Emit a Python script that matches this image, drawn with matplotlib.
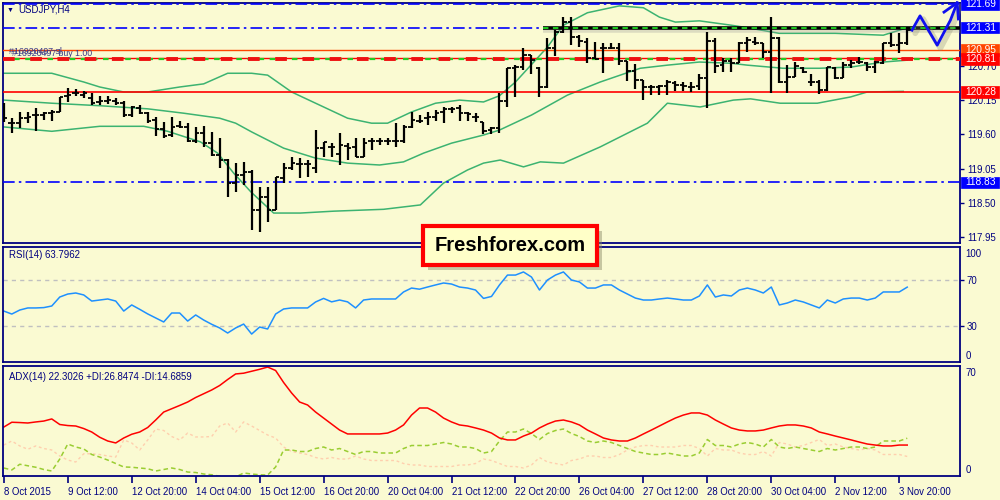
import matplotlib
matplotlib.use("Agg")
import matplotlib.pyplot as plt
import matplotlib.transforms as mtrans
from matplotlib.patches import Rectangle
import numpy as np

plt.rcParams['font.family'] = ['Liberation Sans', 'DejaVu Sans']

# ---------------- data ----------------
opens = [119.96, 119.78, 119.78, 119.86, 119.91, 119.91, 119.94, 119.96, 120.22, 120.26,
         120.23, 120.18, 120.12, 120.14, 120.14, 120.10, 119.91, 120.02, 119.94, 119.83,
         119.69, 119.59, 119.73, 119.72, 119.49, 119.62, 119.46, 119.27, 119.19, 118.82,
         118.95, 119.00, 118.39, 118.60, 118.39, 118.90, 119.06, 119.13, 119.13, 119.06,
         119.38, 119.40, 119.29, 119.41, 119.40, 119.24, 119.49, 119.49, 119.49, 119.49,
         119.49, 119.72, 119.82, 119.86, 119.88, 119.96, 120.01, 120.02, 119.94, 119.88,
         119.80, 119.67, 119.70, 120.14, 120.66, 120.68, 120.87, 120.66, 120.36, 120.98,
         121.24, 121.40, 121.16, 121.08, 120.82, 120.98, 120.98, 120.98, 120.78, 120.62,
         120.47, 120.36, 120.36, 120.38, 120.42, 120.39, 120.36, 120.38, 120.50, 121.10,
         120.71, 120.78, 120.74, 121.06, 121.08, 121.06, 120.92, 121.14, 120.44, 120.52,
         120.66, 120.44, 120.44, 120.31, 120.66, 120.50, 120.71, 120.76, 120.74, 120.68,
         120.74, 121.06, 121.03, 121.06]
highs = [120.10, 119.86, 119.96, 119.96, 120.02, 119.96, 119.99, 120.20, 120.34, 120.33,
         120.29, 120.26, 120.22, 120.22, 120.18, 120.14, 120.06, 120.07, 119.96, 119.88,
         119.80, 119.88, 119.82, 119.78, 119.72, 119.73, 119.64, 119.54, 119.20, 119.14,
         119.16, 119.03, 118.76, 118.76, 118.92, 119.14, 119.24, 119.22, 119.19, 119.67,
         119.48, 119.46, 119.62, 119.46, 119.54, 119.54, 119.54, 119.54, 119.54, 119.78,
         119.75, 119.96, 119.91, 119.96, 119.99, 120.04, 120.04, 120.07, 119.96, 119.94,
         119.80, 119.72, 120.26, 120.66, 120.71, 120.98, 120.87, 120.68, 121.14, 121.27,
         121.48, 121.48, 121.19, 121.14, 121.08, 121.06, 121.06, 121.06, 120.78, 120.73,
         120.47, 120.39, 120.39, 120.47, 120.46, 120.44, 120.44, 120.57, 121.24, 121.14,
         120.82, 120.82, 121.08, 121.16, 121.16, 121.06, 121.48, 121.16, 120.71, 120.76,
         120.68, 120.57, 120.47, 120.68, 120.68, 120.76, 120.79, 120.84, 120.76, 120.78,
         121.06, 121.22, 121.22, 121.31]
lows = [119.80, 119.62, 119.70, 119.78, 119.65, 119.83, 119.82, 119.96, 120.12, 120.22,
        120.18, 120.07, 120.07, 120.09, 120.07, 119.88, 119.88, 119.93, 119.78, 119.57,
        119.54, 119.56, 119.70, 119.48, 119.46, 119.40, 119.25, 119.06, 118.60, 118.68,
        118.79, 118.07, 118.04, 118.20, 118.39, 118.82, 119.03, 118.90, 118.92, 118.98,
        119.24, 119.24, 119.11, 119.19, 119.24, 119.24, 119.35, 119.43, 119.43, 119.40,
        119.46, 119.70, 119.78, 119.75, 119.82, 119.78, 119.94, 119.82, 119.82, 119.80,
        119.61, 119.61, 119.62, 120.04, 120.20, 120.63, 120.57, 120.20, 120.34, 120.86,
        121.22, 121.03, 121.00, 120.74, 120.81, 120.58, 120.97, 120.71, 120.46, 120.33,
        120.15, 120.23, 120.23, 120.23, 120.29, 120.29, 120.28, 120.31, 120.02, 120.58,
        120.60, 120.60, 120.74, 120.92, 121.03, 120.82, 120.26, 120.42, 120.26, 120.52,
        120.58, 120.38, 120.25, 120.29, 120.49, 120.50, 120.66, 120.73, 120.62, 120.58,
        120.73, 121.00, 120.90, 121.03]
closes = [119.86, 119.78, 119.86, 119.88, 119.91, 119.94, 119.96, 120.20, 120.23, 120.26,
          120.26, 120.10, 120.14, 120.15, 120.10, 119.91, 120.04, 119.94, 119.82, 119.69,
          119.57, 119.72, 119.72, 119.49, 119.62, 119.46, 119.27, 119.19, 118.82, 118.95,
          119.00, 118.39, 118.60, 118.39, 118.92, 119.06, 119.14, 119.13, 119.13, 119.38,
          119.48, 119.40, 119.43, 119.38, 119.24, 119.46, 119.49, 119.49, 119.49, 119.49,
          119.72, 119.83, 119.82, 119.88, 119.94, 120.01, 120.01, 119.94, 119.93, 119.88,
          119.65, 119.70, 120.14, 120.66, 120.68, 120.87, 120.79, 120.36, 120.98, 121.24,
          121.40, 121.16, 121.10, 120.82, 120.81, 120.98, 120.98, 120.78, 120.62, 120.47,
          120.36, 120.36, 120.38, 120.44, 120.39, 120.38, 120.36, 120.50, 121.10, 120.70,
          120.78, 120.74, 121.06, 121.11, 121.06, 120.92, 121.14, 120.44, 120.52, 120.70,
          120.60, 120.44, 120.31, 120.68, 120.50, 120.71, 120.74, 120.76, 120.68, 120.76,
          121.06, 121.03, 121.06, 121.27]

# Bollinger bands, sampled along the chart (bar index, price)
bb_up_idx = [0, 6, 10, 12, 15, 18, 22, 25, 28, 31, 33, 36, 39, 43, 46, 48, 51, 54, 57, 60,
             62, 64, 68, 70, 73, 77, 80, 82, 84, 87, 91, 93, 97, 104, 110, 113]
bb_up = [120.58, 120.58, 120.44, 120.36, 120.28, 120.28, 120.36, 120.41, 120.58, 120.58,
         120.55, 120.28, 120.10, 119.86, 119.78, 119.78, 119.96, 120.10, 120.15, 120.12,
         120.22, 120.44, 121.00, 121.35, 121.55, 121.66, 121.63, 121.48, 121.40, 121.42,
         121.35, 121.31, 121.22, 121.22, 121.19, 121.31]
bb_mid_idx = [0, 6, 12, 18, 22.5, 27, 29, 31, 35, 39, 43, 47, 50, 52.5, 56, 60, 62, 66,
              70.5, 74.6, 79.6, 83, 87, 91, 93, 97.5, 102, 106, 110, 113]
bb_mid = [120.15, 120.10, 120.06, 120.01, 119.94, 119.86, 119.78, 119.64, 119.38, 119.22,
          119.14, 119.11, 119.16, 119.30, 119.46, 119.59, 119.67, 119.91, 120.23, 120.44,
          120.66, 120.71, 120.76, 120.74, 120.71, 120.66, 120.66, 120.68, 120.76, 120.79]
bb_low_idx = [0, 6, 12, 17.5, 20.5, 24.6, 26.75, 28.75, 30.9, 33.75, 37.1, 41.25, 47.5,
              52.1, 55, 58, 60, 62.1, 65, 67.1, 70, 74.6, 80.5, 83, 87.1, 91.25, 93.4,
              97.1, 101.75, 105.9, 108, 112.5]
bb_low = [119.72, 119.65, 119.73, 119.73, 119.65, 119.48, 119.30, 118.98, 118.68, 118.34,
          118.34, 118.37, 118.40, 118.47, 118.82, 119.03, 119.14, 119.19, 119.08, 119.16,
          119.14, 119.40, 119.78, 120.10, 120.04, 120.15, 120.17, 120.10, 120.10, 120.20,
          120.28, 120.29]

rsi = [43.0, 40.4, 43.9, 45.7, 45.7, 46.0, 47.4, 55.2, 57.8, 58.7,
       57.0, 51.7, 52.6, 53.5, 51.7, 43.0, 48.3, 44.5, 40.5, 37.0,
       33.5, 41.3, 41.3, 34.3, 39.6, 35.2, 31.5, 28.3, 23.9, 28.3,
       31.7, 23.0, 29.1, 27.4, 40.4, 44.8, 45.7, 45.7, 45.7, 50.9,
       54.0, 51.0, 52.6, 51.0, 45.7, 52.6, 53.5, 53.5, 53.5, 53.5,
       59.6, 63.0, 62.0, 63.9, 65.7, 67.4, 66.5, 63.9, 63.0, 61.3,
       54.0, 55.7, 65.7, 74.3, 74.3, 77.0, 72.6, 61.3, 70.0, 74.3,
       77.0, 70.0, 68.3, 63.0, 63.0, 65.7, 65.7, 61.3, 57.8, 54.3,
       52.6, 52.6, 53.5, 54.3, 53.5, 52.6, 52.6, 56.1, 65.7, 55.2,
       57.0, 56.1, 61.3, 63.0, 61.3, 58.7, 63.9, 48.3, 50.0, 52.6,
       50.9, 48.3, 45.7, 52.6, 50.0, 53.5, 54.3, 54.3, 52.6, 54.3,
       59.6, 59.6, 59.6, 63.8]
adx = [34.3, 37.5, 37.3, 37.0, 37.7, 38.3, 39.7, 36.0, 35.3, 35.0,
       33.3, 31.0, 27.5, 25.0, 23.7, 27.0, 29.5, 31.0, 34.0, 39.0,
       44.3, 46.5, 48.7, 51.0, 54.0, 56.5, 59.0, 62.0, 66.0, 69.7,
       70.2, 71.5, 72.8, 74.3, 72.0, 64.0, 57.0, 51.0, 49.0, 44.3,
       40.3, 36.3, 32.3, 29.7, 29.7, 29.7, 29.7, 29.7, 30.3, 32.3,
       35.7, 42.3, 47.0, 47.0, 44.3, 40.3, 37.7, 35.7, 35.0, 33.7,
       32.3, 30.3, 27.0, 25.7, 25.7, 28.3, 30.3, 33.7, 36.3, 38.3,
       39.0, 37.7, 35.7, 32.3, 29.7, 27.0, 25.7, 25.0, 25.0, 27.0,
       29.7, 32.3, 35.0, 37.7, 40.3, 42.3, 43.7, 43.7, 42.3, 39.0,
       36.3, 33.7, 32.3, 31.7, 31.7, 32.3, 33.7, 35.0, 35.7, 35.7,
       35.0, 33.7, 31.0, 29.7, 28.3, 27.0, 25.7, 24.3, 23.0, 22.3,
       21.7, 21.7, 22.3, 22.3]
plus_di = [7.0, 5.7, 9.5, 8.5, 7.5, 6.0, 5.0, 13.0, 23.0, 21.0,
           19.7, 16.0, 14.3, 12.3, 10.0, 7.7, 7.5, 7.0, 6.5, 5.0,
           6.0, 7.0, 6.0, 4.3, 4.0, 3.0, 2.5, 1.5, 1.0, 1.0,
           3.7, 3.0, 2.5, 2.3, 7.7, 19.0, 19.0, 18.0, 18.0, 20.0,
           21.0, 19.0, 20.0, 18.0, 16.0, 18.0, 18.0, 17.0, 17.0, 17.0,
           20.0, 22.0, 22.0, 22.0, 23.0, 24.0, 23.0, 21.0, 21.0, 20.0,
           17.0, 18.0, 25.0, 31.0, 31.0, 33.0, 30.0, 26.0, 30.0, 32.0,
           33.0, 30.0, 28.0, 25.0, 24.0, 25.0, 24.0, 22.0, 20.0, 18.0,
           17.0, 16.0, 16.0, 17.0, 16.0, 15.0, 15.0, 17.0, 26.0, 22.0,
           22.0, 21.0, 23.0, 24.0, 23.0, 21.0, 26.0, 21.0, 20.0, 21.0,
           20.0, 19.0, 18.0, 20.0, 19.0, 20.0, 21.0, 21.0, 20.0, 21.0,
           25.0, 25.0, 25.0, 26.85]
minus_di = [22.3, 25.0, 21.7, 19.5, 21.7, 20.0, 19.0, 15.0, 12.3, 11.0,
            16.5, 16.5, 16.0, 15.0, 14.3, 25.7, 23.7, 19.0, 25.7, 33.0,
            32.0, 28.0, 25.7, 30.3, 27.7, 27.7, 28.0, 35.0, 37.0, 31.0,
            37.7, 35.0, 32.0, 29.0, 27.0, 21.0, 18.0, 17.0, 16.0, 14.0,
            13.0, 14.0, 13.0, 13.0, 15.0, 13.0, 12.0, 12.0, 12.0, 12.0,
            10.0, 9.0, 9.0, 8.0, 8.0, 8.0, 8.0, 9.0, 9.0, 10.0,
            13.0, 12.0, 10.0, 8.0, 8.0, 7.0, 9.0, 14.0, 11.0, 10.0,
            9.0, 12.0, 13.0, 15.0, 15.0, 14.0, 14.0, 16.0, 19.0, 21.0,
            22.0, 22.0, 21.0, 21.0, 21.0, 22.0, 22.0, 20.0, 15.0, 20.0,
            19.0, 19.0, 17.0, 16.0, 16.0, 18.0, 15.0, 24.0, 23.0, 21.0,
            22.0, 24.0, 26.0, 22.0, 23.0, 21.0, 20.0, 19.0, 20.0, 19.0,
            16.0, 16.0, 16.0, 14.69]

x_tick_idx = [0, 8, 16, 24, 32, 40, 48, 56, 64, 72, 80, 88, 96, 104, 112]
x_tick_labels = ["8 Oct 2015", "9 Oct 12:00", "12 Oct 20:00", "14 Oct 04:00",
                 "15 Oct 12:00", "16 Oct 20:00", "20 Oct 04:00", "21 Oct 12:00",
                 "22 Oct 20:00", "26 Oct 04:00", "27 Oct 12:00", "28 Oct 20:00",
                 "30 Oct 04:00", "2 Nov 12:00", "3 Nov 20:00"]
price_ticks = [117.95, 118.50, 119.05, 119.60, 120.15, 120.70]

lvl_top = 121.69
lvl_res = 121.31
lvl_sl = 120.95
lvl_buy = 120.81
lvl_sup = 120.28
lvl_low = 118.83
res_start = 67.5        # bar where the black resistance line starts

# hand-drawn forecast arrow (bar index, price)
arrow_x = [113.6, 114.6, 116.75, 118.4, 119.25]
arrow_y = [121.27, 121.50, 121.03, 121.43, 121.71]
head_x = [117.6, 119.25, 119.4]
head_y = [121.56, 121.71, 121.45]

# ---------------- styling ----------------
BG = "#FAFAD2"
NAVY = "#000080"
BBC = "#3CB371"
W, H = 1000, 500
XMIN, XMAX = -0.1, 119.6
FS = 6.9

fig = plt.figure(figsize=(10, 5), dpi=100, facecolor=BG)


def box(l, t, r, b):
    return [l / W, 1 - b / H, (r - l) / W, (b - t) / H]


ax = fig.add_axes(box(3, 3, 960, 243))
ax_rsi = fig.add_axes(box(3, 247, 960, 362))
ax_adx = fig.add_axes(box(3, 366, 960, 476))

for a in (ax, ax_rsi, ax_adx):
    a.set_facecolor(BG)
    for s in a.spines.values():
        s.set_color(NAVY)
        s.set_linewidth(1.3)
    a.set_xlim(XMIN, XMAX)
    a.yaxis.tick_right()
    a.tick_params(axis='y', colors=NAVY, labelcolor=NAVY, labelsize=FS,
                  length=3, width=1, direction='out', pad=2)
    a.tick_params(axis='x', length=0, labelbottom=False)

idx = np.arange(len(closes))

# --- main price panel ---
ax.set_ylim(117.86, 121.706)
ax.set_yticks(price_ticks)
ax.set_yticklabels([f"{p:.2f}" for p in price_ticks])

ax.plot(bb_up_idx, bb_up, color=BBC, lw=1.1, zorder=2)
ax.plot(bb_mid_idx, bb_mid, color=BBC, lw=1.1, zorder=2)
ax.plot(bb_low_idx, bb_low, color=BBC, lw=1.1, zorder=2)

dashdot = (0, (7, 2.5, 1.5, 2.5))
ax.axhline(lvl_top, color='#0000FF', lw=1.2, ls=dashdot, zorder=3)
ax.hlines(lvl_res, XMIN, res_start, color='#0000FF', lw=1.2, ls=dashdot, zorder=3)
ax.hlines(lvl_res - 0.035, res_start, XMAX, color='#999999', lw=4, alpha=0.3, zorder=3)
ax.hlines(lvl_res, res_start, XMAX, color='black', lw=2.6, zorder=4)
ax.hlines(lvl_res, res_start, XMAX, color='#22DD22', lw=1.3, ls=(0, (3, 2.5)), zorder=5)
ax.axhline(lvl_sl, color='#FF4500', lw=1.0, zorder=3)
ax.axhline(lvl_buy + 0.01, color='#FF0000', lw=1.0, zorder=3)
ax.axhline(lvl_buy - 0.005, color='#22CC22', lw=1.6, ls=(0, (2.5, 2.5)), zorder=3)
ax.axhline(lvl_buy - 0.005, color='#EE1111', lw=2.8, ls=(0, (3, 4)), zorder=3)
ax.axhline(lvl_sup, color='#FF0000', lw=1.2, zorder=3)
ax.axhline(lvl_low, color='#0000FF', lw=1.2, ls=dashdot, zorder=3)

ax.vlines(idx, lows, highs, color='black', lw=1.6, zorder=6)
ax.hlines(opens, idx - 0.42, idx, color='black', lw=1.3, zorder=6)
ax.hlines(closes, idx, idx + 0.42, color='black', lw=1.3, zorder=6)

# forecast arrow with soft shadow
ax.plot(np.array(arrow_x) + 0.4, np.array(arrow_y) - 0.05, color='#8A8A70', lw=4,
        alpha=0.3, solid_capstyle='round', zorder=7, clip_on=False)
ax.plot(arrow_x, arrow_y, color='#1010EE', lw=2.0, solid_joinstyle='round', zorder=8, clip_on=False)
ax.plot(head_x, head_y, color='#1010EE', lw=2.0, zorder=8, clip_on=False)

# price label boxes on the right axis
tr = mtrans.blended_transform_factory(ax.transAxes, ax.transData)
box_x0 = (961 - 3) / 957
box_w = 38 / 957
box_h = 11.5 / 62.4
for val, col in [(lvl_top, '#0000FF'), (lvl_res, '#0000FF'), (lvl_sl, '#FF4500'),
                 (lvl_buy, '#FF0000'), (lvl_sup, '#FF0000'), (lvl_low, '#0000FF')]:
    ax.add_patch(Rectangle((box_x0, val - box_h / 2), box_w, box_h, transform=tr,
                           fc=col, ec=col, lw=0.5, clip_on=False, zorder=19))
    ax.text(box_x0 + 0.004, val, f"{val:.2f}", transform=tr, ha='left', va='center',
            color='white', fontsize=FS + 0.4, zorder=20, clip_on=False)

ax.text(0.006, 120.93, "#16920497 sl", transform=tr, color='#3A3A8A', fontsize=6.3,
        va='center', zorder=9)
ax.text(0.009, 120.895, "#16920497 buy 1.00", transform=tr, color='#3A3A8A', fontsize=6.3,
        va='center', zorder=9)

fig.text(7 / W, 1 - 10 / H, "\u25BC", color=NAVY, fontsize=5, va='center', ha='left')
fig.text(18 / W, 1 - 10 / H, "USDJPY,H4", color=NAVY, fontsize=FS, va='center', ha='left')

# --- RSI panel ---
ax_rsi.set_ylim(-1.3, 98.7)
ax_rsi.set_yticks([30, 70])
ax_rsi.set_yticklabels(["30", "70"])
ax_rsi.axhline(70, color='#C0C0C0', lw=1, ls=(0, (3, 3)))
ax_rsi.axhline(30, color='#C0C0C0', lw=1, ls=(0, (3, 3)))
ax_rsi.plot(idx, rsi, color='#1E90FF', lw=1.1)
ax_rsi.text(1.006, 0.985, "100", transform=ax_rsi.transAxes, color=NAVY, fontsize=FS,
            ha='left', va='top')
ax_rsi.text(1.006, 0.01, "0", transform=ax_rsi.transAxes, color=NAVY, fontsize=FS,
            ha='left', va='bottom')
ax_rsi.text(0.006, 0.93, "RSI(14) 63.7962", transform=ax_rsi.transAxes, color=NAVY,
            fontsize=FS, ha='left', va='center')

# --- ADX panel ---
ax_adx.set_ylim(1.67, 75)
ax_adx.set_yticks([])
ax_adx.plot(idx, minus_di, color='#FFCFAE', lw=1.0, ls=(0, (2, 2)))
ax_adx.plot(idx, plus_di, color='#9ACD32', lw=1.1, ls=(0, (3, 2)))
ax_adx.plot(idx, adx, color='#FF0000', lw=1.1)
ax_adx.text(1.006, 0.985, "70", transform=ax_adx.transAxes, color=NAVY, fontsize=FS,
            ha='left', va='top')
ax_adx.text(1.006, 0.01, "0", transform=ax_adx.transAxes, color=NAVY, fontsize=FS,
            ha='left', va='bottom')
ax_adx.text(0.006, 0.9, "ADX(14) 22.3026 +DI:26.8474 -DI:14.6859", transform=ax_adx.transAxes,
            color=NAVY, fontsize=FS, ha='left', va='center')
ax_adx.set_xticks(x_tick_idx)
ax_adx.set_xticklabels(x_tick_labels)
ax_adx.tick_params(axis='x', length=5, width=1.2, colors=NAVY, labelcolor=NAVY,
                   labelbottom=True, labelsize=FS, direction='out', pad=3)
for lab in ax_adx.get_xticklabels():
    lab.set_horizontalalignment('left')

# --- logo ---
L, T, R, B = 423, 226, 597, 265
fig.patches.append(Rectangle(((L + 5) / W, 1 - (B + 5) / H), (R - L) / W, (B - T) / H,
                             transform=fig.transFigure, fc='#888866', ec='none', alpha=0.45,
                             zorder=30))
fig.patches.append(Rectangle((L / W, 1 - B / H), (R - L) / W, (B - T) / H,
                             transform=fig.transFigure, fc='#FFFFC8', ec='#FF0000', lw=3,
                             zorder=31))
fig.text((L + R) / 2 / W, 1 - (T + B) / 2 / H, "Freshforex.com", color='black',
         fontsize=14.5, fontweight='bold', ha='center', va='center', zorder=32)

fig.savefig("out.png", dpi=100, facecolor=BG)
